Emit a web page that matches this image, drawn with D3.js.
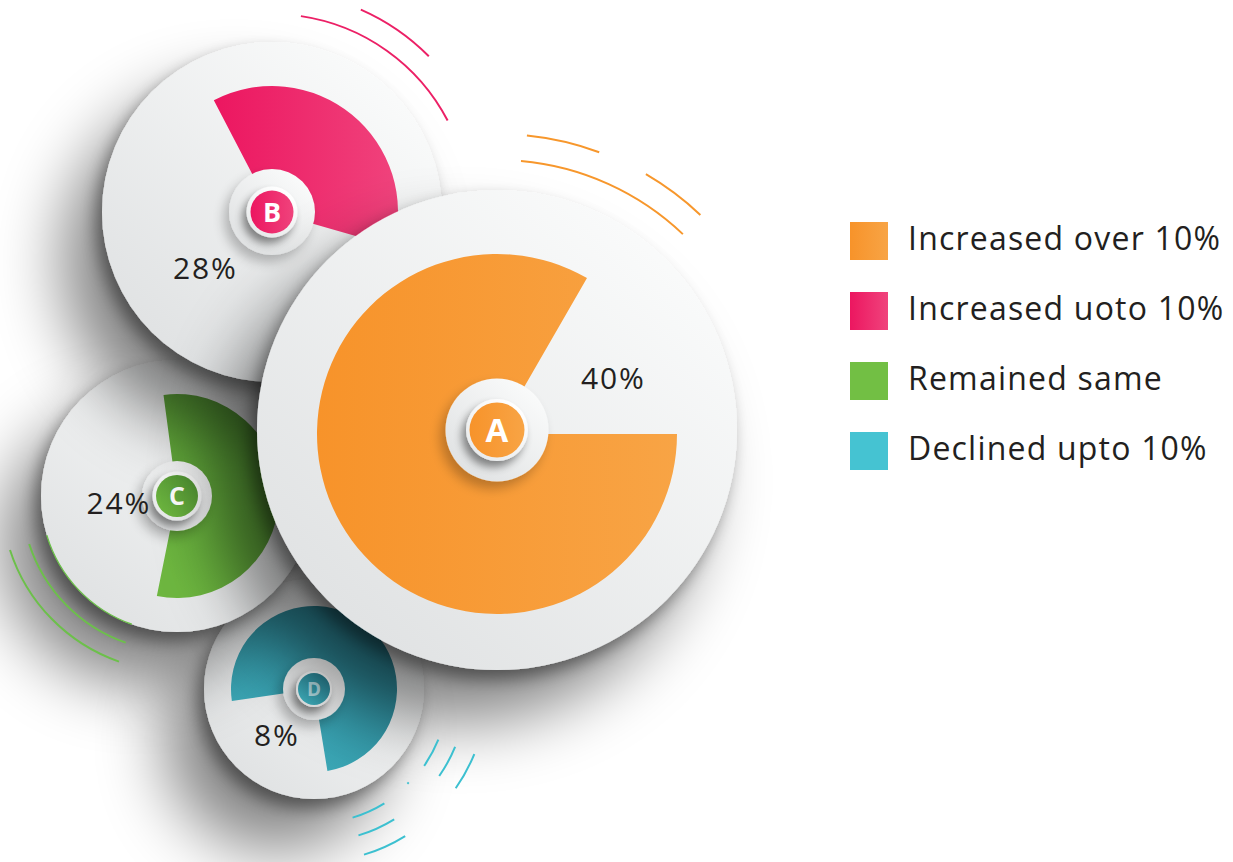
<!DOCTYPE html>
<html><head><meta charset="utf-8">
<script src="https://cdn.jsdelivr.net/npm/d3@7"></script>
<style>html,body{margin:0;padding:0;background:#fff;} svg{display:block;}</style>
</head><body>
<svg id="chart" width="1233" height="862"></svg>
<script>
// ---------- data ----------
const categories = ["A", "B", "C", "D"];
const values = [40, 28, 24, 8];
const legendLabels = ["Increased over 10%", "Increased uoto 10%", "Remained same", "Declined upto 10%"];
// coloured sector extent as drawn (degrees clockwise from 12 o'clock)
const sectorStartDeg = [90, -27.5, -7.6, -98.3];
const sectorEndDeg = [390, 106, 191.4, 170.7];

// ---------- layout / style ----------
const layout = {
  A: {cx: 497, cy: 430, disc: 240, outer: 180, sdy: 4, hole: 51.5, badge: 31, badgeIn: 27.5, font: 33, lx: 581, ly: 389, anchor: "start"},
  B: {cx: 272, cy: 212, disc: 170, outer: 126, sdy: 0, hole: 43, badge: 25.5, badgeIn: 21.5, font: 27, lx: 173, ly: 279, anchor: "start"},
  C: {cx: 177, cy: 496, disc: 136, outer: 102, sdy: 0, hole: 35, badge: 24.5, badgeIn: 21, font: 25, lx: 151, ly: 514, anchor: "end"},
  D: {cx: 314, cy: 689, disc: 110, outer: 83, sdy: 0, hole: 31, badge: 18, badgeIn: 16, font: 19, lx: 254, ly: 746, anchor: "start"}
};
const sectorGrad = {
  A: {x1: "0", y1: "0", x2: "1", y2: "0", stops: ["#f7932a", "#f8a445"]},
  B: {x1: "0", y1: "0", x2: "1", y2: "0", stops: ["#ec1660", "#f0437c"]},
  C: {x1: "0.2", y1: "0.95", x2: "1", y2: "0.05", stops: ["#6db63f", "#4f9232"]},
  D: {x1: "0.1", y1: "1", x2: "0.9", y2: "0", stops: ["#41b5c3", "#26798a"]}
};
const legendFill = {A: "gradA", B: "gradB", C: "#72bf44", D: "#45c3d2"};
const accentColor = {A: "#f7972c", B: "#ec2066", C: "#6cc04a", D: "#3cc0d0"};
// decorative arcs: category, radius, start, end (deg)
const accents = [
  ["A", 296, 5.8, 20.2], ["A", 270, 5.1, 43.5], ["A", 296, 30.2, 43.4],
  ["B", 198, 8.4, 62.5], ["B", 221, 23.7, 45.2],
  ["C", 155.4, 199.3, 252], ["C", 175.5, 199.3, 252.1], ["C", 136, 199.4, 253.3],
  ["D", 134.3, 112.2, 124.9], ["D", 152.5, 112.3, 124.8], ["D", 173, 112.1, 125],
  ["D", 134.3, 148.4, 163.3], ["D", 153, 148.4, 163.1], ["D", 173, 148.2, 163.2],
  ["D", 133, 134.6, 135.4]
];

const svg = d3.select("#chart");
const defs = svg.append("defs");
const ang = d3.scaleLinear().domain([0, 360]).range([0, 2 * Math.PI]);
const fillScale = d3.scaleOrdinal().domain(categories).range(categories.map(c => `url(#grad${c})`));

// gradients
categories.forEach(c => {
  const s = sectorGrad[c];
  const lg = defs.append("linearGradient").attr("id", "grad" + c)
    .attr("x1", s.x1).attr("y1", s.y1).attr("x2", s.x2).attr("y2", s.y2);
  lg.append("stop").attr("offset", "0").attr("stop-color", s.stops[0]);
  lg.append("stop").attr("offset", "1").attr("stop-color", s.stops[1]);
});
const dg = defs.append("linearGradient").attr("id", "discGrad")
  .attr("x1", "0.85").attr("y1", "0.1").attr("x2", "0.15").attr("y2", "0.9");
dg.append("stop").attr("offset", "0").attr("stop-color", "#fafbfb");
dg.append("stop").attr("offset", "1").attr("stop-color", "#e0e2e3");
const bg = defs.append("linearGradient").attr("id", "badgeGrad")
  .attr("x1", "0.8").attr("y1", "0.1").attr("x2", "0.2").attr("y2", "0.9");
bg.append("stop").attr("offset", "0").attr("stop-color", "#ffffff");
bg.append("stop").attr("offset", "1").attr("stop-color", "#e9ebec");

function shadowFilter(id, layers) {
  const f = defs.append("filter").attr("id", id)
    .attr("x", "-80%").attr("y", "-60%").attr("width", "240%").attr("height", "240%");
  layers.forEach((l, i) => {
    f.append("feGaussianBlur").attr("in", "SourceAlpha").attr("stdDeviation", l.std).attr("result", "b" + i);
    f.append("feOffset").attr("in", "b" + i).attr("dx", l.dx).attr("dy", l.dy).attr("result", "o" + i);
    const ct = f.append("feComponentTransfer").attr("in", "o" + i).attr("result", "s" + i);
    ct.append("feFuncA").attr("type", "linear").attr("slope", l.op);
  });
  const m = f.append("feMerge");
  layers.forEach((l, i) => m.append("feMergeNode").attr("in", "s" + i));
  m.append("feMergeNode").attr("in", "SourceGraphic");
}
shadowFilter("discShadow", [{dx: -6, dy: 9, std: 8, op: 0.4}, {dx: -38, dy: 50, std: 34, op: 0.5}]);
shadowFilter("holeShadow", [{dx: -5, dy: 7, std: 6, op: 0.25}]);
shadowFilter("badgeShadow", [{dx: -4, dy: 6, std: 4, op: 0.45}]);

// discs, back to front
categories.slice().reverse().forEach(c => {
  const i = categories.indexOf(c);
  const L = layout[c];
  const g = svg.append("g").attr("transform", `translate(${L.cx},${L.cy})`);
  g.append("circle").attr("r", L.disc).attr("fill", "url(#discGrad)").attr("filter", "url(#discShadow)");
  g.append("path")
    .attr("transform", `translate(0,${L.sdy})`)
    .attr("d", d3.arc()({innerRadius: 0, outerRadius: L.outer,
      startAngle: ang(sectorStartDeg[i]), endAngle: ang(sectorEndDeg[i])}))
    .attr("fill", fillScale(c));
  g.append("circle").attr("r", L.hole).attr("fill", "url(#discGrad)").attr("filter", "url(#holeShadow)");
  g.append("circle").attr("r", L.badge).attr("fill", "url(#badgeGrad)").attr("filter", "url(#badgeShadow)");
  g.append("circle").attr("r", L.badgeIn).attr("fill", fillScale(c));
  g.append("text").attr("text-anchor", "middle").attr("dy", "0.36em")
    .attr("font-family", "'Open Sans', sans-serif").attr("font-weight", 700)
    .attr("font-size", L.font).attr("fill", c === "D" ? "rgba(255,255,255,0.6)" : "#fff")
    .text(c);
});

// decorative arcs
accents.forEach(a => {
  const L = layout[a[0]];
  svg.append("path")
    .attr("transform", `translate(${L.cx},${L.cy})`)
    .attr("d", d3.arc()({innerRadius: a[1], outerRadius: a[1], startAngle: ang(a[2]), endAngle: ang(a[3])}))
    .attr("fill", "none").attr("stroke", accentColor[a[0]])
    .attr("stroke-width", a[1] === 136 ? 1.4 : 2).attr("stroke-linecap", "round");
});

// percentage labels
categories.forEach((c, i) => {
  const L = layout[c];
  svg.append("text").attr("x", L.lx).attr("y", L.ly).attr("text-anchor", L.anchor)
    .attr("font-family", "'Open Sans', sans-serif").attr("font-size", 30)
    .attr("letter-spacing", 1.8).attr("fill", "#231f20")
    .text(values[i] + "%");
});

// legend
const leg = svg.append("g").attr("transform", "translate(850,222)");
categories.forEach((c, i) => {
  const row = leg.append("g").attr("transform", `translate(0,${i * 70})`);
  const f = legendFill[c];
  row.append("rect").attr("width", 38).attr("height", 38)
    .attr("fill", f.startsWith("#") ? f : `url(#${f})`);
  row.append("text").attr("x", 58).attr("y", 28)
    .attr("font-family", "'Open Sans', sans-serif").attr("font-size", 32)
    .attr("letter-spacing", 1.2).attr("fill", "#231f20")
    .text(legendLabels[i]);
});
</script>
</body></html>
